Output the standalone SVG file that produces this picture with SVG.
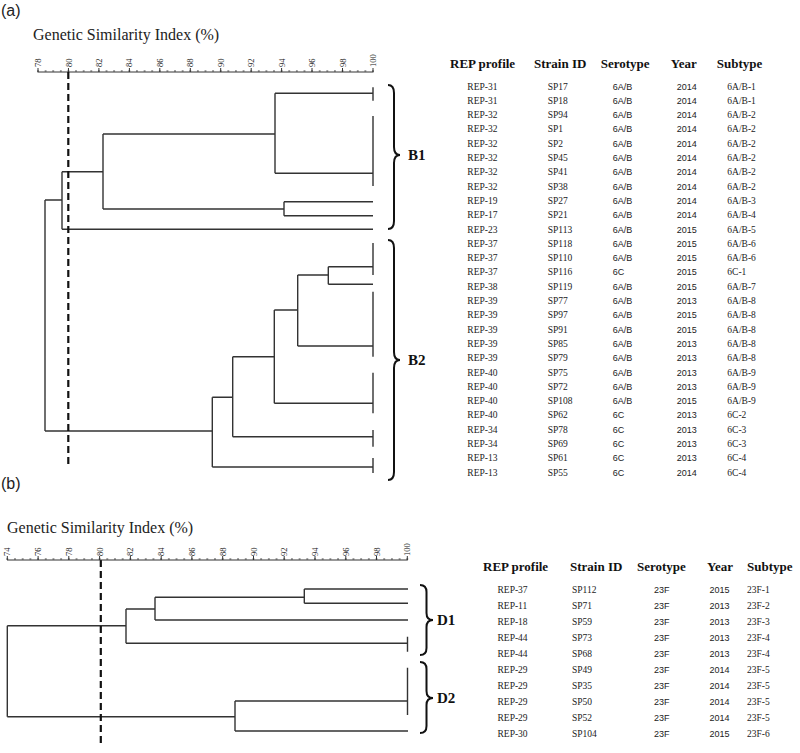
<svg xmlns="http://www.w3.org/2000/svg" width="800" height="753" viewBox="0 0 800 753">
<style>
.lbl{font-family:"Liberation Sans",Arial,sans-serif;font-size:16px;fill:#222}
.ttl{font-family:"Liberation Serif","Times New Roman",serif;font-size:16px;fill:#222}
.tk{font-family:"Liberation Serif","Times New Roman",serif;font-size:8.5px;fill:#222}
.hd{font-family:"Liberation Serif","Times New Roman",serif;font-size:13px;font-weight:bold;fill:#111}
.d{font-family:"Liberation Serif","Times New Roman",serif;font-size:9.5px;fill:#222}
.s{font-family:"Liberation Sans",Arial,sans-serif;font-size:9px;fill:#222}
.cl{font-family:"Liberation Serif","Times New Roman",serif;font-size:15px;font-weight:bold;fill:#111}
.tree{fill:none;stroke:#333;stroke-width:1.4}
.axis{fill:none;stroke:#333;stroke-width:1}
.dash{fill:none;stroke:#111;stroke-width:2.2;stroke-dasharray:7 4}
.brace{fill:none;stroke:#111;stroke-width:2}
</style>
<defs>
<pattern id="ta" x="34.2" y="0" width="7.6136" height="753" patternUnits="userSpaceOnUse"><line x1="3.8" y1="0" x2="3.8" y2="753" stroke="#333" stroke-width="0.9"/></pattern>
<pattern id="tb" x="3.45" y="0" width="7.6923" height="753" patternUnits="userSpaceOnUse"><line x1="3.85" y1="0" x2="3.85" y2="753" stroke="#333" stroke-width="0.9"/></pattern>
</defs>
<rect width="800" height="753" fill="#fff"/>

<g id="panel-a-labels">
<text class="lbl" x="1" y="16">(a)</text>
<text class="ttl" x="33" y="40">Genetic Similarity Index (%)</text>
</g>
<g id="axis-a">
<line class="axis" x1="37.5" y1="72" x2="373.5" y2="72"/>
<rect x="36" y="70" width="340" height="2" fill="url(#ta)"/>
<path class="axis" d="M38,72V68M68.45,72V68M98.9,72V68M129.4,72V68M159.8,72V68M190.3,72V68M220.7,72V68M251.2,72V68M281.6,72V68M312,72V68M342.5,72V68M373,72V68"/>
<g class="tk">
<text transform="translate(41,67) rotate(-90)">78</text>
<text transform="translate(71.5,67) rotate(-90)">80</text>
<text transform="translate(101.9,67) rotate(-90)">82</text>
<text transform="translate(132.4,67) rotate(-90)">84</text>
<text transform="translate(162.8,67) rotate(-90)">86</text>
<text transform="translate(193.3,67) rotate(-90)">88</text>
<text transform="translate(223.7,67) rotate(-90)">90</text>
<text transform="translate(254.2,67) rotate(-90)">92</text>
<text transform="translate(284.6,67) rotate(-90)">94</text>
<text transform="translate(315,67) rotate(-90)">96</text>
<text transform="translate(345.5,67) rotate(-90)">98</text>
<text transform="translate(376,67) rotate(-90)">100</text>
</g>
</g>

<g id="connectors">
<path class="tree" d="M275,93.3H373M275,173.3H373M284,201.7H373M284,215.7H373M62,229.3H373M328.3,266.7H373M328.3,284.3H373M297.7,346H373M274.3,403.3H373M232.7,436.7H373M212.3,467H373
M373,87.3V100.7M373,116V186M373,243V275M373,291.7V356.7M373,372.7V413.3M373,430V446.7M373,458V473
M275,93.3V173.3M103,134H275M284,201.7V215.7M103,209H284M103,134V209M62,171.7H103M62,171.7V229.3M45,200H62
M328.3,266.7V284.3M297.7,275H328.3M297.7,275V346M274.3,310H297.7M274.3,310V403.3M232.7,356.7H274.3M232.7,356.7V436.7M212.3,397.3H232.7M212.3,397.3V467M45,431H212.3M45,200V431"/>
<line class="dash" x1="68.3" y1="72" x2="68.3" y2="468"/>
<path class="tree" d="M304.3,589H408M304.3,603.3H408M304.3,589V603.3M155,597.3H304.3M155,620H408M155,597.3V620M126,609H155M126,643.3H408M407.5,636.7V651.7M126,609V643.3M7.3,625.7H126
M235,701H408M407.5,667.7V715M235,731H408M235,701V731M7.3,716.7H235M7.3,625.7V716.7"/>
<line class="dash" x1="100.8" y1="560" x2="100.8" y2="747"/>
</g>

<g id="cluster-B1">
<path class="brace" d="M388,85Q394,85 394,93L394,147Q394,155 400,155Q394,155 394,163L394,221Q394,229 388,229"/>
<text class="cl" x="408" y="160">B1</text>
</g>
<g id="cluster-B2">
<path class="brace" d="M388,240Q394,240 394,248L394,352Q394,360 400,360Q394,360 394,368L394,472Q394,480 388,480"/>
<text class="cl" x="408" y="365">B2</text>
</g>

<g id="table-a">
<text class="hd" x="450" y="67.5">REP profile</text>
<text class="hd" x="534" y="67.5">Strain ID</text>
<text class="hd" x="600.7" y="67.5">Serotype</text>
<text class="hd" x="670.7" y="67.5">Year</text>
<text class="hd" x="716.7" y="67.5">Subtype</text>
<g class="d">
<text x="467.3" y="89.5">REP-31</text><text x="467.3" y="103.8">REP-31</text><text x="467.3" y="118.1">REP-32</text><text x="467.3" y="132.4">REP-32</text><text x="467.3" y="146.7">REP-32</text><text x="467.3" y="161">REP-32</text><text x="467.3" y="175.3">REP-32</text><text x="467.3" y="189.6">REP-32</text><text x="467.3" y="203.9">REP-19</text><text x="467.3" y="218.2">REP-17</text><text x="467.3" y="232.5">REP-23</text><text x="467.3" y="246.8">REP-37</text><text x="467.3" y="261.1">REP-37</text><text x="467.3" y="275.4">REP-37</text><text x="467.3" y="289.7">REP-38</text><text x="467.3" y="304">REP-39</text><text x="467.3" y="318.3">REP-39</text><text x="467.3" y="332.6">REP-39</text><text x="467.3" y="346.9">REP-39</text><text x="467.3" y="361.2">REP-39</text><text x="467.3" y="375.5">REP-40</text><text x="467.3" y="389.8">REP-40</text><text x="467.3" y="404.1">REP-40</text><text x="467.3" y="418.4">REP-40</text><text x="467.3" y="432.7">REP-34</text><text x="467.3" y="447">REP-34</text><text x="467.3" y="461.3">REP-13</text><text x="467.3" y="475.6">REP-13</text>
<text x="547.7" y="89.5">SP17</text><text x="547.7" y="103.8">SP18</text><text x="547.7" y="118.1">SP94</text><text x="547.7" y="132.4">SP1</text><text x="547.7" y="146.7">SP2</text><text x="547.7" y="161">SP45</text><text x="547.7" y="175.3">SP41</text><text x="547.7" y="189.6">SP38</text><text x="547.7" y="203.9">SP27</text><text x="547.7" y="218.2">SP21</text><text x="547.7" y="232.5">SP113</text><text x="547.7" y="246.8">SP118</text><text x="547.7" y="261.1">SP110</text><text x="547.7" y="275.4">SP116</text><text x="547.7" y="289.7">SP119</text><text x="547.7" y="304">SP77</text><text x="547.7" y="318.3">SP97</text><text x="547.7" y="332.6">SP91</text><text x="547.7" y="346.9">SP85</text><text x="547.7" y="361.2">SP79</text><text x="547.7" y="375.5">SP75</text><text x="547.7" y="389.8">SP72</text><text x="547.7" y="404.1">SP108</text><text x="547.7" y="418.4">SP62</text><text x="547.7" y="432.7">SP78</text><text x="547.7" y="447">SP69</text><text x="547.7" y="461.3">SP61</text><text x="547.7" y="475.6">SP55</text>
<text x="727.3" y="89.5">6A/B-1</text><text x="727.3" y="103.8">6A/B-1</text><text x="727.3" y="118.1">6A/B-2</text><text x="727.3" y="132.4">6A/B-2</text><text x="727.3" y="146.7">6A/B-2</text><text x="727.3" y="161">6A/B-2</text><text x="727.3" y="175.3">6A/B-2</text><text x="727.3" y="189.6">6A/B-2</text><text x="727.3" y="203.9">6A/B-3</text><text x="727.3" y="218.2">6A/B-4</text><text x="727.3" y="232.5">6A/B-5</text><text x="727.3" y="246.8">6A/B-6</text><text x="727.3" y="261.1">6A/B-6</text><text x="727.3" y="275.4">6C-1</text><text x="727.3" y="289.7">6A/B-7</text><text x="727.3" y="304">6A/B-8</text><text x="727.3" y="318.3">6A/B-8</text><text x="727.3" y="332.6">6A/B-8</text><text x="727.3" y="346.9">6A/B-8</text><text x="727.3" y="361.2">6A/B-8</text><text x="727.3" y="375.5">6A/B-9</text><text x="727.3" y="389.8">6A/B-9</text><text x="727.3" y="404.1">6A/B-9</text><text x="727.3" y="418.4">6C-2</text><text x="727.3" y="432.7">6C-3</text><text x="727.3" y="447">6C-3</text><text x="727.3" y="461.3">6C-4</text><text x="727.3" y="475.6">6C-4</text>
</g>
<g class="s">
<text x="612.7" y="89.5">6A/B</text><text x="612.7" y="103.8">6A/B</text><text x="612.7" y="118.1">6A/B</text><text x="612.7" y="132.4">6A/B</text><text x="612.7" y="146.7">6A/B</text><text x="612.7" y="161">6A/B</text><text x="612.7" y="175.3">6A/B</text><text x="612.7" y="189.6">6A/B</text><text x="612.7" y="203.9">6A/B</text><text x="612.7" y="218.2">6A/B</text><text x="612.7" y="232.5">6A/B</text><text x="612.7" y="246.8">6A/B</text><text x="612.7" y="261.1">6A/B</text><text x="612.7" y="275.4">6C</text><text x="612.7" y="289.7">6A/B</text><text x="612.7" y="304">6A/B</text><text x="612.7" y="318.3">6A/B</text><text x="612.7" y="332.6">6A/B</text><text x="612.7" y="346.9">6A/B</text><text x="612.7" y="361.2">6A/B</text><text x="612.7" y="375.5">6A/B</text><text x="612.7" y="389.8">6A/B</text><text x="612.7" y="404.1">6A/B</text><text x="612.7" y="418.4">6C</text><text x="612.7" y="432.7">6C</text><text x="612.7" y="447">6C</text><text x="612.7" y="461.3">6C</text><text x="612.7" y="475.6">6C</text>
<text x="676.7" y="89.5">2014</text><text x="676.7" y="103.8">2014</text><text x="676.7" y="118.1">2014</text><text x="676.7" y="132.4">2014</text><text x="676.7" y="146.7">2014</text><text x="676.7" y="161">2014</text><text x="676.7" y="175.3">2014</text><text x="676.7" y="189.6">2014</text><text x="676.7" y="203.9">2014</text><text x="676.7" y="218.2">2014</text><text x="676.7" y="232.5">2015</text><text x="676.7" y="246.8">2015</text><text x="676.7" y="261.1">2015</text><text x="676.7" y="275.4">2015</text><text x="676.7" y="289.7">2015</text><text x="676.7" y="304">2013</text><text x="676.7" y="318.3">2015</text><text x="676.7" y="332.6">2015</text><text x="676.7" y="346.9">2013</text><text x="676.7" y="361.2">2013</text><text x="676.7" y="375.5">2013</text><text x="676.7" y="389.8">2013</text><text x="676.7" y="404.1">2015</text><text x="676.7" y="418.4">2013</text><text x="676.7" y="432.7">2013</text><text x="676.7" y="447">2013</text><text x="676.7" y="461.3">2013</text><text x="676.7" y="475.6">2014</text>
</g>
</g>

<g id="panel-b-labels">
<text class="lbl" x="1" y="489">(b)</text>
<text class="ttl" x="7" y="533">Genetic Similarity Index (%)</text>
</g>
<g id="axis-b">
<line class="axis" x1="7" y1="560" x2="407.8" y2="560"/>
<rect x="5" y="558" width="405" height="2" fill="url(#tb)"/>
<path class="axis" d="M7.3,560V556M38.1,560V556M68.8,560V556M99.6,560V556M130.4,560V556M161.2,560V556M191.9,560V556M222.7,560V556M253.5,560V556M284.2,560V556M315,560V556M345.8,560V556M376.5,560V556M407.3,560V556"/>
<g class="tk">
<text transform="translate(10.3,556) rotate(-90)">74</text>
<text transform="translate(41.1,556) rotate(-90)">76</text>
<text transform="translate(71.8,556) rotate(-90)">78</text>
<text transform="translate(102.6,556) rotate(-90)">80</text>
<text transform="translate(133.4,556) rotate(-90)">82</text>
<text transform="translate(164.2,556) rotate(-90)">84</text>
<text transform="translate(194.9,556) rotate(-90)">86</text>
<text transform="translate(225.7,556) rotate(-90)">88</text>
<text transform="translate(256.5,556) rotate(-90)">90</text>
<text transform="translate(287.2,556) rotate(-90)">92</text>
<text transform="translate(318,556) rotate(-90)">94</text>
<text transform="translate(348.8,556) rotate(-90)">96</text>
<text transform="translate(379.5,556) rotate(-90)">98</text>
<text transform="translate(410.3,556) rotate(-90)">100</text>
</g>
</g>

<g id="cluster-D1">
<path class="brace" d="M420,585Q426.5,585 426.5,592L426.5,613Q426.5,620 433,620Q426.5,620 426.5,627L426.5,648Q426.5,655 420,655"/>
<text class="cl" x="437" y="625">D1</text>
</g>
<g id="cluster-D2">
<path class="brace" d="M420,662Q426.5,662 426.5,669L426.5,691Q426.5,698 433,698Q426.5,698 426.5,705L426.5,726Q426.5,733 420,733"/>
<text class="cl" x="437" y="703">D2</text>
</g>

<g id="table-b">
<text class="hd" x="483" y="570.5">REP profile</text>
<text class="hd" x="570" y="570.5">Strain ID</text>
<text class="hd" x="637" y="570.5">Serotype</text>
<text class="hd" x="707" y="570.5">Year</text>
<text class="hd" x="747" y="570.5">Subtype</text>
<g class="d">
<text x="497.5" y="592.5">REP-37</text><text x="497.5" y="608.6">REP-11</text><text x="497.5" y="624.6">REP-18</text><text x="497.5" y="640.7">REP-44</text><text x="497.5" y="656.7">REP-44</text><text x="497.5" y="672.8">REP-29</text><text x="497.5" y="688.8">REP-29</text><text x="497.5" y="704.9">REP-29</text><text x="497.5" y="720.9">REP-29</text><text x="497.5" y="737">REP-30</text>
<text x="572" y="592.5">SP112</text><text x="572" y="608.6">SP71</text><text x="572" y="624.6">SP59</text><text x="572" y="640.7">SP73</text><text x="572" y="656.7">SP68</text><text x="572" y="672.8">SP49</text><text x="572" y="688.8">SP35</text><text x="572" y="704.9">SP50</text><text x="572" y="720.9">SP52</text><text x="572" y="737">SP104</text>
<text x="747" y="592.5">23F-1</text><text x="747" y="608.6">23F-2</text><text x="747" y="624.6">23F-3</text><text x="747" y="640.7">23F-4</text><text x="747" y="656.7">23F-4</text><text x="747" y="672.8">23F-5</text><text x="747" y="688.8">23F-5</text><text x="747" y="704.9">23F-5</text><text x="747" y="720.9">23F-5</text><text x="747" y="737">23F-6</text>
</g>
<g class="s">
<text x="654" y="592.5">23F</text><text x="654" y="608.6">23F</text><text x="654" y="624.6">23F</text><text x="654" y="640.7">23F</text><text x="654" y="656.7">23F</text><text x="654" y="672.8">23F</text><text x="654" y="688.8">23F</text><text x="654" y="704.9">23F</text><text x="654" y="720.9">23F</text><text x="654" y="737">23F</text>
<text x="709.5" y="592.5">2015</text><text x="709.5" y="608.6">2013</text><text x="709.5" y="624.6">2013</text><text x="709.5" y="640.7">2013</text><text x="709.5" y="656.7">2013</text><text x="709.5" y="672.8">2014</text><text x="709.5" y="688.8">2014</text><text x="709.5" y="704.9">2014</text><text x="709.5" y="720.9">2014</text><text x="709.5" y="737">2015</text>
</g>
</g>
</svg>
